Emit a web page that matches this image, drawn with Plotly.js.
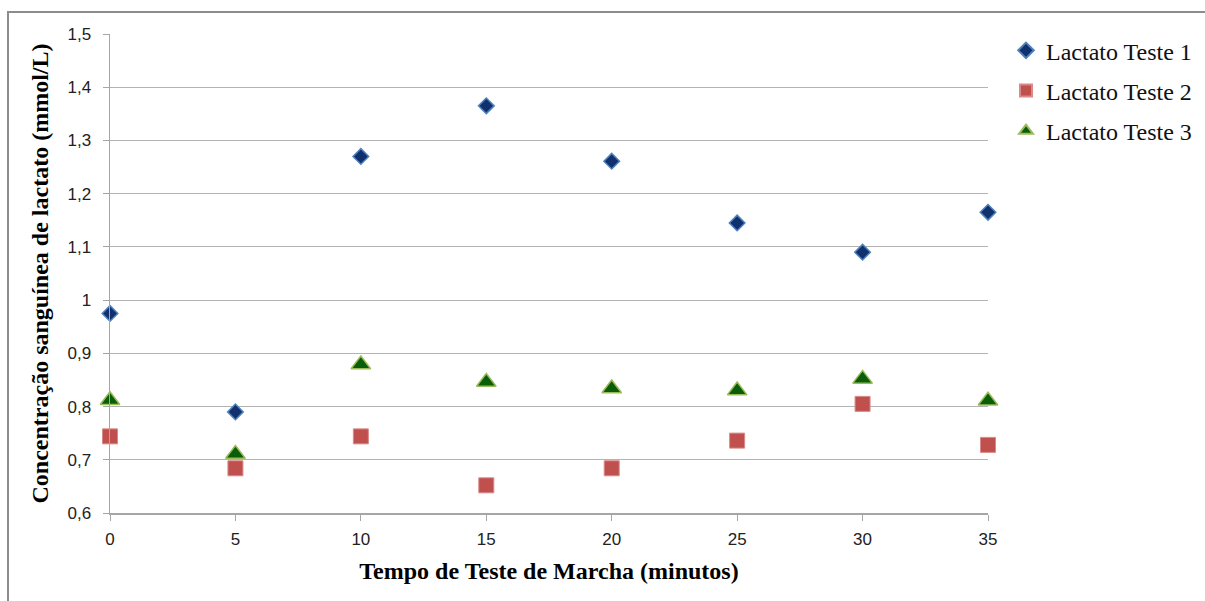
<!DOCTYPE html>
<html>
<head>
<meta charset="utf-8">
<script src="https://cdn.plot.ly/plotly-3.0.1.min.js"></script>
<style>
  html, body { margin: 0; padding: 0; background: #fff; }
  #wrap { position: relative; width: 1205px; height: 601px; overflow: hidden; }
  #frame { position: absolute; left: 7px; top: 11px; width: 1300px; height: 700px; border-left: 2px solid #8c8c8c; border-top: 2px solid #8c8c8c; pointer-events: none; }
  #chart { position: absolute; left: 0; top: 0; width: 1205px; height: 601px; }
</style>
</head>
<body>
<div id="wrap">
  <div id="chart"></div>
  <div id="frame"></div>
</div>
<script>
const tempo = [0, 5, 10, 15, 20, 25, 30, 35];
const teste1 = [0.975, 0.790, 1.270, 1.365, 1.261, 1.145, 1.090, 1.165];
const teste2 = [0.744, 0.684, 0.744, 0.652, 0.684, 0.736, 0.805, 0.728];
const teste3 = [0.812, 0.711, 0.879, 0.846, 0.834, 0.830, 0.852, 0.811];
const seriesNames = ['Lactato Teste 1', 'Lactato Teste 2', 'Lactato Teste 3'];

const traces = [
  { x: tempo, y: teste1, name: seriesNames[0], legendgroup: 'a', type: 'scatter', mode: 'markers', cliponaxis: false,
    marker: { symbol: 'diamond', size: 12, color: '#10306e', line: { color: '#4f81bd', width: 1.5 } } },
  { x: tempo, y: teste2, name: seriesNames[1], legendgroup: 'b', type: 'scatter', mode: 'markers', cliponaxis: false,
    marker: { symbol: 'square', size: 15, color: '#c0504d', line: { color: '#d98a88', width: 1 } } },
  { x: tempo, y: teste3, name: seriesNames[2], legendgroup: 'c', type: 'scatter', mode: 'markers', cliponaxis: false,
    marker: { symbol: 'triangle-up', size: 17, color: '#0a5e0a', line: { color: '#9bbb59', width: 1.5 } } }
];

const layout = {
  width: 1205, height: 601,
  margin: { l: 110, r: 217, t: 34, b: 88, autoexpand: false },
  paper_bgcolor: '#ffffff', plot_bgcolor: '#ffffff',
  separators: ',.',
  showlegend: true,
  legend: {
    x: 1.0205, xanchor: 'left', y: 1.012, yanchor: 'top',
    font: { family: 'Liberation Serif, Times New Roman, serif', size: 24, color: '#111' },
    traceorder: 'grouped', tracegroupgap: 6, itemsizing: 'constant'
  },
  xaxis: {
    range: [0, 35], dtick: 5, tick0: 0,
    showgrid: false, zeroline: false,
    showline: true, linecolor: '#a6a6a6', linewidth: 1.5,
    ticks: 'outside', ticklen: 6, tickcolor: '#a6a6a6',
    ticklabelstandoff: 4,
    tickfont: { family: 'Liberation Sans, Arial, sans-serif', size: 17, color: '#222' },
    title: { text: 'Tempo de Teste de Marcha (minutos)', standoff: 14,
      font: { family: 'Liberation Serif, Times New Roman, serif', size: 24, color: '#000', weight: 'bold' } }
  },
  yaxis: {
    range: [0.6, 1.5], dtick: 0.1, tick0: 0.6,
    showgrid: true, gridcolor: '#b3b3b3', gridwidth: 1.2,
    zeroline: false,
    showline: true, linecolor: '#a6a6a6', linewidth: 1.5,
    ticks: 'outside', ticklen: 6, tickcolor: '#a6a6a6',
    ticklabelstandoff: 8,
    tickfont: { family: 'Liberation Sans, Arial, sans-serif', size: 17, color: '#222' },
    title: { text: 'Concentração sanguínea de lactato (mmol/L)', standoff: 12,
      font: { family: 'Liberation Serif, Times New Roman, serif', size: 24, color: '#000', weight: 'bold' } }
  }
};

Plotly.newPlot('chart', traces, layout, { displayModeBar: false, staticPlot: true });
</script>
</body>
</html>
